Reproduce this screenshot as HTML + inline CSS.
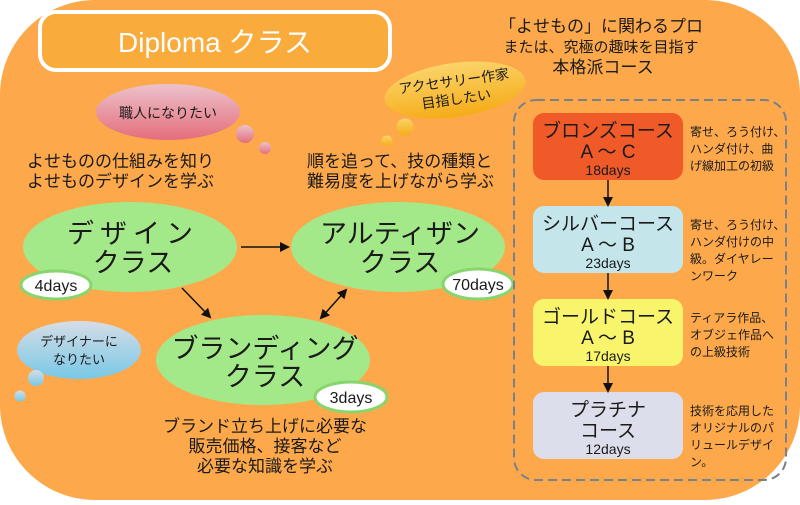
<!DOCTYPE html>
<html><head><meta charset="utf-8"><style>
body{margin:0;width:800px;height:500px;overflow:hidden;background:#fff;font-family:"Liberation Sans","Noto Sans CJK JP",sans-serif;}
svg text{font-family:"Liberation Sans","Noto Sans CJK JP",sans-serif;fill:#1a1a1a;}
</style></head><body>
<svg width="800" height="500" viewBox="0 0 800 500" xmlns="http://www.w3.org/2000/svg">
<defs>
<linearGradient id="pk" x1="0" y1="0" x2="0" y2="1"><stop offset="0" stop-color="#ecc2cc"/><stop offset="1" stop-color="#e46e7a"/></linearGradient>
<linearGradient id="bl" x1="0" y1="0" x2="0" y2="1"><stop offset="0" stop-color="#d6dde6"/><stop offset="1" stop-color="#78c8e6"/></linearGradient>
<linearGradient id="yl" x1="0" y1="0" x2="0" y2="1"><stop offset="0" stop-color="#fbd46a"/><stop offset="1" stop-color="#f5ac18"/></linearGradient>
<marker id="ah" markerWidth="10" markerHeight="10" refX="8" refY="5" orient="auto" markerUnits="userSpaceOnUse"><path d="M0,0 L10,5 L0,10 z" fill="#111"/></marker>
<marker id="as" markerWidth="10" markerHeight="10" refX="2" refY="5" orient="auto" markerUnits="userSpaceOnUse"><path d="M10,0 L0,5 L10,10 z" fill="#111"/></marker>
</defs>
<rect x="0" y="0" width="800" height="500" rx="95" ry="95" fill="#fda94b"/>
<!-- title -->
<rect x="40" y="12" width="350" height="58" rx="16" fill="#f9ab3c" stroke="#fff" stroke-width="4"/>
<text x="215" y="52" font-size="28" text-anchor="middle" style="fill:#fff">Diploma クラス</text>
<!-- top right text -->
<text x="601" y="32" font-size="17" text-anchor="middle">「よせもの」に関わるプロ</text>
<text x="601" y="52" font-size="15" text-anchor="middle">または、究極の趣味を目指す</text>
<text x="603" y="73" font-size="17" text-anchor="middle">本格派コース</text>
<!-- bubbles -->
<ellipse cx="168" cy="112" rx="72" ry="28" fill="url(#pk)"/>
<text x="168" y="118" font-size="14" text-anchor="middle">職人になりたい</text>
<circle cx="245" cy="134" r="9" fill="url(#pk)"/>
<circle cx="265" cy="148" r="6" fill="url(#pk)"/>
<ellipse cx="79" cy="350" rx="62" ry="29" fill="url(#bl)"/>
<text x="79" y="346" font-size="13" text-anchor="middle">デザイナーに</text>
<text x="79" y="364" font-size="13" text-anchor="middle">なりたい</text>
<circle cx="36" cy="378" r="8" fill="url(#bl)"/>
<circle cx="20" cy="396" r="5.5" fill="url(#bl)"/>
<g transform="rotate(-8 455 90)">
<ellipse cx="455" cy="90" rx="71" ry="27" fill="url(#yl)"/>
<text x="455" y="86" font-size="14" text-anchor="middle">アクセサリー作家</text>
<text x="455" y="104" font-size="14" text-anchor="middle">目指したい</text>
</g>
<circle cx="405" cy="127" r="8.5" fill="url(#yl)"/>
<circle cx="387" cy="141" r="5.5" fill="url(#yl)"/>
<!-- descriptions -->
<text x="27" y="167" font-size="17">よせものの仕組みを知り</text>
<text x="27" y="187" font-size="17">よせものデザインを学ぶ</text>
<text x="307" y="167" font-size="17">順を追って、技の種類と</text>
<text x="307" y="187" font-size="17">難易度を上げながら学ぶ</text>
<text x="265" y="432" font-size="17" text-anchor="middle">ブランド立ち上げに必要な</text>
<text x="265" y="452" font-size="17" text-anchor="middle">販売価格、接客など</text>
<text x="265" y="472" font-size="17" text-anchor="middle">必要な知識を学ぶ</text>
<!-- ellipses -->
<ellipse cx="130" cy="247" rx="107" ry="45" fill="#a4e989"/>
<text x="133" y="243" font-size="27" text-anchor="middle" letter-spacing="6">デザイン</text>
<text x="133" y="272" font-size="27" text-anchor="middle">クラス</text>
<ellipse cx="398" cy="247" rx="107" ry="45" fill="#a4e989"/>
<text x="400" y="243" font-size="27" text-anchor="middle">アルティザン</text>
<text x="400" y="272" font-size="27" text-anchor="middle">クラス</text>
<ellipse cx="263" cy="360" rx="107" ry="45" fill="#a4e989"/>
<text x="265" y="358" font-size="27" text-anchor="middle">ブランディング</text>
<text x="265" y="386" font-size="27" text-anchor="middle">クラス</text>
<!-- pills -->
<ellipse cx="56" cy="285" rx="35" ry="14" fill="#fff" stroke="#86d66d" stroke-width="3"/>
<text x="56" y="291" font-size="16" text-anchor="middle">4days</text>
<ellipse cx="478" cy="284" rx="35" ry="15" fill="#fff" stroke="#86d66d" stroke-width="3"/>
<text x="478" y="290" font-size="16" text-anchor="middle">70days</text>
<ellipse cx="351" cy="397" rx="36" ry="15" fill="#fff" stroke="#86d66d" stroke-width="3"/>
<text x="351" y="403" font-size="16" text-anchor="middle">3days</text>
<!-- arrows -->
<line x1="241" y1="247" x2="288" y2="247" stroke="#111" stroke-width="1.5" marker-end="url(#ah)"/>
<line x1="182" y1="288" x2="210" y2="317" stroke="#111" stroke-width="1.5" marker-end="url(#ah)"/>
<line x1="321" y1="318" x2="346" y2="290" stroke="#111" stroke-width="1.5" marker-end="url(#ah)" marker-start="url(#as)"/>
<!-- dashed box -->
<rect x="514" y="100" width="272" height="380" rx="22" fill="none" stroke="#7a7f8c" stroke-width="2" stroke-dasharray="9,5"/>
<!-- courses -->
<rect x="533" y="113" width="150" height="67" rx="11" fill="#f05a28"/>
<text x="608" y="137" font-size="19" text-anchor="middle">ブロンズコース</text>
<text x="608" y="158" font-size="19" text-anchor="middle">A ～ C</text>
<text x="608" y="175" font-size="14" text-anchor="middle">18days</text>
<rect x="533" y="206" width="150" height="67" rx="11" fill="#c4e6ea"/>
<text x="608" y="230" font-size="19" text-anchor="middle">シルバーコース</text>
<text x="608" y="251" font-size="19" text-anchor="middle">A ～ B</text>
<text x="608" y="268" font-size="14" text-anchor="middle">23days</text>
<rect x="533" y="299" width="150" height="67" rx="11" fill="#f8f46c"/>
<text x="608" y="323" font-size="19" text-anchor="middle">ゴールドコース</text>
<text x="608" y="344" font-size="19" text-anchor="middle">A ～ B</text>
<text x="608" y="361" font-size="14" text-anchor="middle">17days</text>
<rect x="533" y="392" width="150" height="67" rx="11" fill="#dcdeeb"/>
<text x="608" y="416" font-size="19" text-anchor="middle">プラチナ</text>
<text x="608" y="437" font-size="19" text-anchor="middle">コース</text>
<text x="608" y="454" font-size="14" text-anchor="middle">12days</text>
<line x1="608" y1="180" x2="608" y2="205" stroke="#111" stroke-width="1.5" marker-end="url(#ah)"/>
<line x1="608" y1="273" x2="608" y2="298" stroke="#111" stroke-width="1.5" marker-end="url(#ah)"/>
<line x1="608" y1="366" x2="608" y2="391" stroke="#111" stroke-width="1.5" marker-end="url(#ah)"/>
<!-- side notes -->
<g font-size="12">
<text x="690" y="136">寄せ、ろう付け、</text>
<text x="690" y="153">ハンダ付け、曲</text>
<text x="690" y="170">げ線加工の初級</text>
<text x="690" y="229">寄せ、ろう付け、</text>
<text x="690" y="246">ハンダ付けの中</text>
<text x="690" y="263">級。ダイヤレー</text>
<text x="690" y="280">ンワーク</text>
<text x="690" y="322">ティアラ作品、</text>
<text x="690" y="339">オブジェ作品へ</text>
<text x="690" y="356">の上級技術</text>
<text x="690" y="415">技術を応用した</text>
<text x="690" y="432">オリジナルのパ</text>
<text x="690" y="449">リュールデザイ</text>
<text x="690" y="466">ン。</text>
</g>
</svg>
</body></html>
